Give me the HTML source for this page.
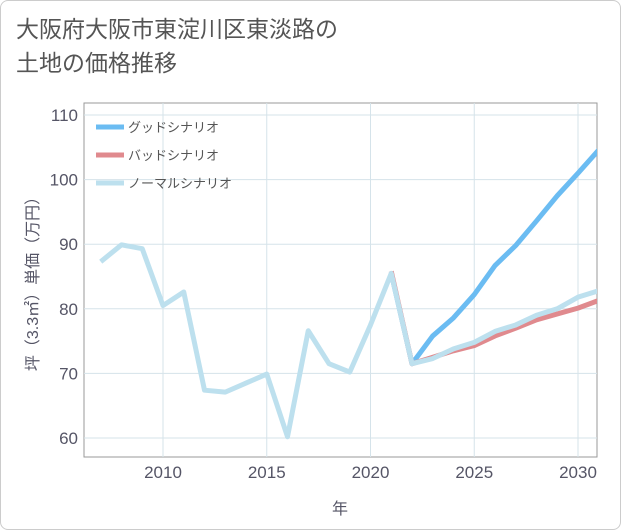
<!DOCTYPE html>
<html><head><meta charset="utf-8"><style>
body{margin:0;background:#fff;font-family:"Liberation Sans","Noto Sans CJK JP",sans-serif;}
#wrap{position:relative;width:621px;height:530px;}
#frame{position:absolute;left:0;top:0;width:619px;height:528px;border:1px solid #ccc;border-radius:8px;}
h1{position:absolute;left:16px;top:12px;margin:0;font-size:23px;font-weight:normal;color:#555;line-height:34px;}
</style></head><body>
<div id="wrap">
<div id="frame"></div>
<h1>大阪府大阪市東淀川区東淡路の<br>土地の価格推移</h1>
<svg id="chart" width="621" height="530" style="position:absolute;left:0;top:0"></svg>
</div>
<script>
const years=[2007,2008,2009,2010,2011,2012,2013,2014,2015,2016,2017,2018,2019,2020,2021,2022,2023,2024,2025,2026,2027,2028,2029,2030,2031];
const normalVals=[87.3,89.9,89.3,80.5,82.6,67.4,67.1,68.5,69.9,60.2,76.6,71.5,70.2,77.5,85.5,71.5,72.3,73.8,74.8,76.5,77.5,79,80,81.8,82.8];
const goodYears=[2021,2022,2023,2024,2025,2026,2027,2028,2029,2030,2031];
const goodVals=[85.5,71.5,75.8,78.6,82.2,86.7,89.8,93.6,97.5,101,104.6];
const badVals=[85.8,71.5,72.5,73.5,74.3,75.8,77,78.3,79.2,80.1,81.3];
const yTicks=[60,70,80,90,100,110];
const xTicks=[2010,2015,2020,2025,2030];
const legendLabels=["グッドシナリオ","バッドシナリオ","ノーマルシナリオ"];
const colors=["#6bbcf2","#e08a8e","#bde0ee"];

const L=84,R=597,T=103,B=457;
const xs=y=>163+(y-2010)*20.75;
const ys=v=>438-(v-60)*6.46;
const svg=document.getElementById('chart');
const NS='http://www.w3.org/2000/svg';
function mk(t,a,p){const e=document.createElementNS(NS,t);for(const k in a)e.setAttribute(k,a[k]);(p||svg).appendChild(e);return e;}
const bg=mk('rect',{x:L,y:T,width:R-L,height:B-T,fill:'#fff',stroke:'#999'});

yTicks.forEach(v=>{
 const g=mk('line',{x1:L,x2:R,y1:ys(v),y2:ys(v),stroke:'#d5e3ea'});
 
 const t=mk('text',{x:L-6,y:ys(v)+6,'text-anchor':'end','font-size':'17',fill:'#556'});t.textContent=v;
 
});
xTicks.forEach(v=>{
 const g=mk('line',{x1:xs(v),x2:xs(v),y1:T,y2:B,stroke:'#d5e3ea'});
 
 const t=mk('text',{x:xs(v),y:B+21,'text-anchor':'middle','font-size':'17',fill:'#556'});t.textContent=v;
 
});
const xt=mk('text',{x:340,y:514,'text-anchor':'middle','font-size':'16',fill:'#556'});xt.textContent='年';

const yt=mk('text',{x:0,y:0,transform:'translate(38,280) rotate(-90)','text-anchor':'middle','font-size':'16',fill:'#556'});yt.textContent='坪（3.3㎡）単価（万円）';

const clip=mk('clipPath',{id:'c'});mk('rect',{x:L,y:T,width:R-L,height:B-T},clip);
function line(xv,vals,c,name){
 const p=mk('polyline',{points:xv.map((y,i)=>xs(y)+','+ys(vals[i])).join(' '),fill:'none',stroke:c,'stroke-width':5,'stroke-linejoin':'round','clip-path':'url(#c)'});
 
}
line(goodYears,goodVals,colors[0],'good-scenario-line');
line(goodYears,badVals,colors[1],'bad-scenario-line');
line(years,normalVals,colors[2],'normal-scenario-line');
legendLabels.forEach((lb,i)=>{
 const y=127+i*28;
 const g=mk('g',{});
 mk('line',{x1:96,x2:124,y1:y,y2:y,stroke:colors[i],'stroke-width':5},g);
 const t=mk('text',{x:128,y:y+5,'font-size':'13',fill:'#555'},g);t.textContent=lb;
});
</script>
</body></html>
